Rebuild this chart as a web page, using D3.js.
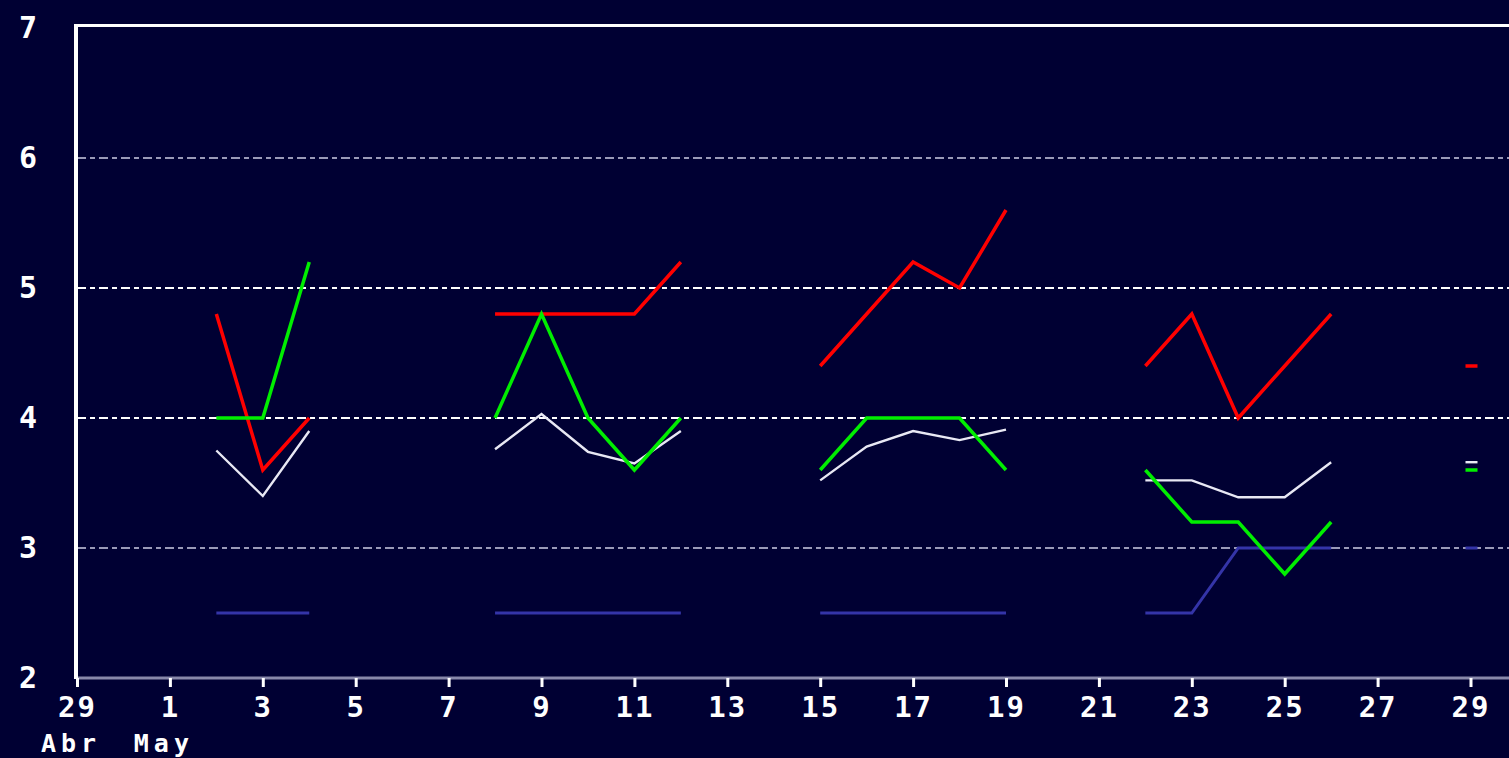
<!DOCTYPE html>
<html>
<head>
<meta charset="utf-8">
<script src="https://cdn.jsdelivr.net/npm/d3@7"></script>
<style>
  html, body { margin: 0; padding: 0; background: #000033; overflow: hidden; }
  svg { display: block; }
  text { font-family: "DejaVu Sans Mono", monospace; font-weight: bold; fill: #ffffff; }
</style>
</head>
<body>
<script>
// observation days (weekday readings), values per series
let dates = ['2006-05-02', '2006-05-03', '2006-05-04',
             '2006-05-08', '2006-05-09', '2006-05-10', '2006-05-11', '2006-05-12',
             '2006-05-15', '2006-05-16', '2006-05-17', '2006-05-18', '2006-05-19',
             '2006-05-22', '2006-05-23', '2006-05-24', '2006-05-25', '2006-05-26',
             '2006-05-29'];

let redValues   = [4.8, 3.6, 4.0,  4.8, 4.8, 4.8, 4.8, 5.2,  4.4, 4.8, 5.2, 5.0, 5.6,  4.4, 4.8, 4.0, 4.4, 4.8,  4.4];
let greenValues = [4.0, 4.0, 5.2,  4.0, 4.8, 4.0, 3.6, 4.0,  3.6, 4.0, 4.0, 4.0, 3.6,  3.6, 3.2, 3.2, 2.8, 3.2,  3.6];
let whiteValues = [3.75, 3.4, 3.9,  3.76, 4.03, 3.74, 3.65, 3.9,  3.52, 3.78, 3.9, 3.83, 3.91,  3.52, 3.52, 3.39, 3.39, 3.66,  3.66];
let blueValues  = [2.5, 2.5, 2.5,  2.5, 2.5, 2.5, 2.5, 2.5,  2.5, 2.5, 2.5, 2.5, 2.5,  2.5, 2.5, 3.0, 3.0, 3.0,  3.0];

let yTicks = [2, 3, 4, 5, 6, 7];
let gridValues = [3, 4, 5, 6];
let monthLabels = [{date: '2006-04-29', text: 'Abr'}, {date: '2006-05-01', text: 'May'}];

let width = 1509, height = 758;
let margin = {top: 26, left: 77, bottom: 80};

let parse = d3.utcParse('%Y-%m-%d');
let days = dates.map(parse);

let xScale = d3.scaleUtc()
                .domain([parse('2006-04-29'), parse('2006-05-30')])
                .range([margin.left, margin.left + 31 * 46.45]);

let yScale = d3.scaleLinear()
                .domain([2, 7])
                .range([678, 28]);

let svg = d3.select('body').append('svg')
        .attr('width', width)
        .attr('height', height)
        .style('background', '#000033');

svg.append('rect')
    .attr('width', width)
    .attr('height', height)
    .attr('fill', '#000033');

// dash-dot grid lines
svg.selectAll('.grid')
    .data(gridValues)
  .enter().append('line')
    .attr('class', 'grid')
    .attr('x1', margin.left)
    .attr('x2', width)
    .attr('y1', d => yScale(d))
    .attr('y2', d => yScale(d))
    .attr('stroke', d => (d === 4 || d === 5) ? '#ffffff' : '#9a9ab8')
    .attr('stroke-width', 2)
    .attr('stroke-dasharray', '9,4,5,4');

// series: break the line wherever readings are more than a day apart
function segments(values) {
  let segs = [], cur = [];
  values.forEach(function(v, i) {
    if (i > 0 && (days[i] - days[i - 1]) > 86400000) { segs.push(cur); cur = []; }
    cur.push({date: days[i], value: v});
  });
  segs.push(cur);
  return segs;
}

let line = d3.line()
    .x(d => xScale(d.date))
    .y(d => yScale(d.value));

let series = [
  {values: blueValues,  color: '#3434a8', width: 3},
  {values: whiteValues, color: '#e8e8f4', width: 2.4},
  {values: redValues,   color: '#ff0000', width: 3.5},
  {values: greenValues, color: '#00ee00', width: 3.5}
];

series.forEach(function(s) {
  let segs = segments(s.values);
  let g = svg.append('g');
  g.selectAll('path')
      .data(segs.filter(seg => seg.length > 1))
    .enter().append('path')
      .attr('d', line)
      .attr('fill', 'none')
      .attr('stroke', s.color)
      .attr('stroke-width', s.width)
      .attr('stroke-linejoin', 'miter');
  // single readings show as a short dash
  g.selectAll('line')
      .data(segs.filter(seg => seg.length === 1))
    .enter().append('line')
      .attr('x1', d => xScale(d[0].date) - 5)
      .attr('x2', d => xScale(d[0].date) + 7)
      .attr('y1', d => yScale(d[0].value))
      .attr('y2', d => yScale(d[0].value))
      .attr('stroke', s.color)
      .attr('stroke-width', s.width);
});

// x axis
let xAxis = d3.axisBottom(xScale)
    .ticks(d3.utcDay.every(2))
    .tickFormat(d3.utcFormat('%-d'))
    .tickSize(9)
    .tickSizeOuter(0)
    .tickPadding(9);

let gx = svg.append('g')
        .attr('transform', 'translate(0, ' + yScale(2) + ')')
        .call(xAxis);

gx.select('.domain')
    .attr('stroke', '#8888aa')
    .attr('stroke-width', 3)
    .attr('d', 'M' + margin.left + ',0H' + width);
gx.selectAll('.tick line')
    .attr('stroke', '#ffffff')
    .attr('stroke-width', 3);
gx.selectAll('.tick text')
    .style('font-size', '29px')
    .style('letter-spacing', '2px')
    .attr('fill', '#ffffff');

svg.selectAll('.month')
    .data(monthLabels)
  .enter().append('text')
    .attr('class', 'month')
    .attr('x', d => xScale(parse(d.date)) - 6)
    .attr('y', 752)
    .attr('text-anchor', 'middle')
    .style('font-size', '25px')
    .style('letter-spacing', '5px')
    .text(d => d.text);

// y axis: labels only
let yAxis = d3.axisLeft(yScale)
    .tickValues(yTicks)
    .tickFormat(d3.format('d'))
    .tickSize(0)
    .tickPadding(40);

let gy = svg.append('g')
        .attr('transform', 'translate(' + margin.left + ', 0)')
        .call(yAxis);
gy.select('.domain').remove();
gy.selectAll('.tick text')
    .style('font-size', '30px')
    .attr('fill', '#ffffff');

// frame: left and top edges in white
svg.append('line')
    .attr('x1', margin.left - 1).attr('x2', margin.left - 1)
    .attr('y1', 24).attr('y2', yScale(2) + 1)
    .attr('stroke', '#ffffff')
    .attr('stroke-width', 4);
svg.append('line')
    .attr('x1', margin.left - 3).attr('x2', width)
    .attr('y1', 25.5).attr('y2', 25.5)
    .attr('stroke', '#ffffff')
    .attr('stroke-width', 3);
</script>
</body>
</html>
